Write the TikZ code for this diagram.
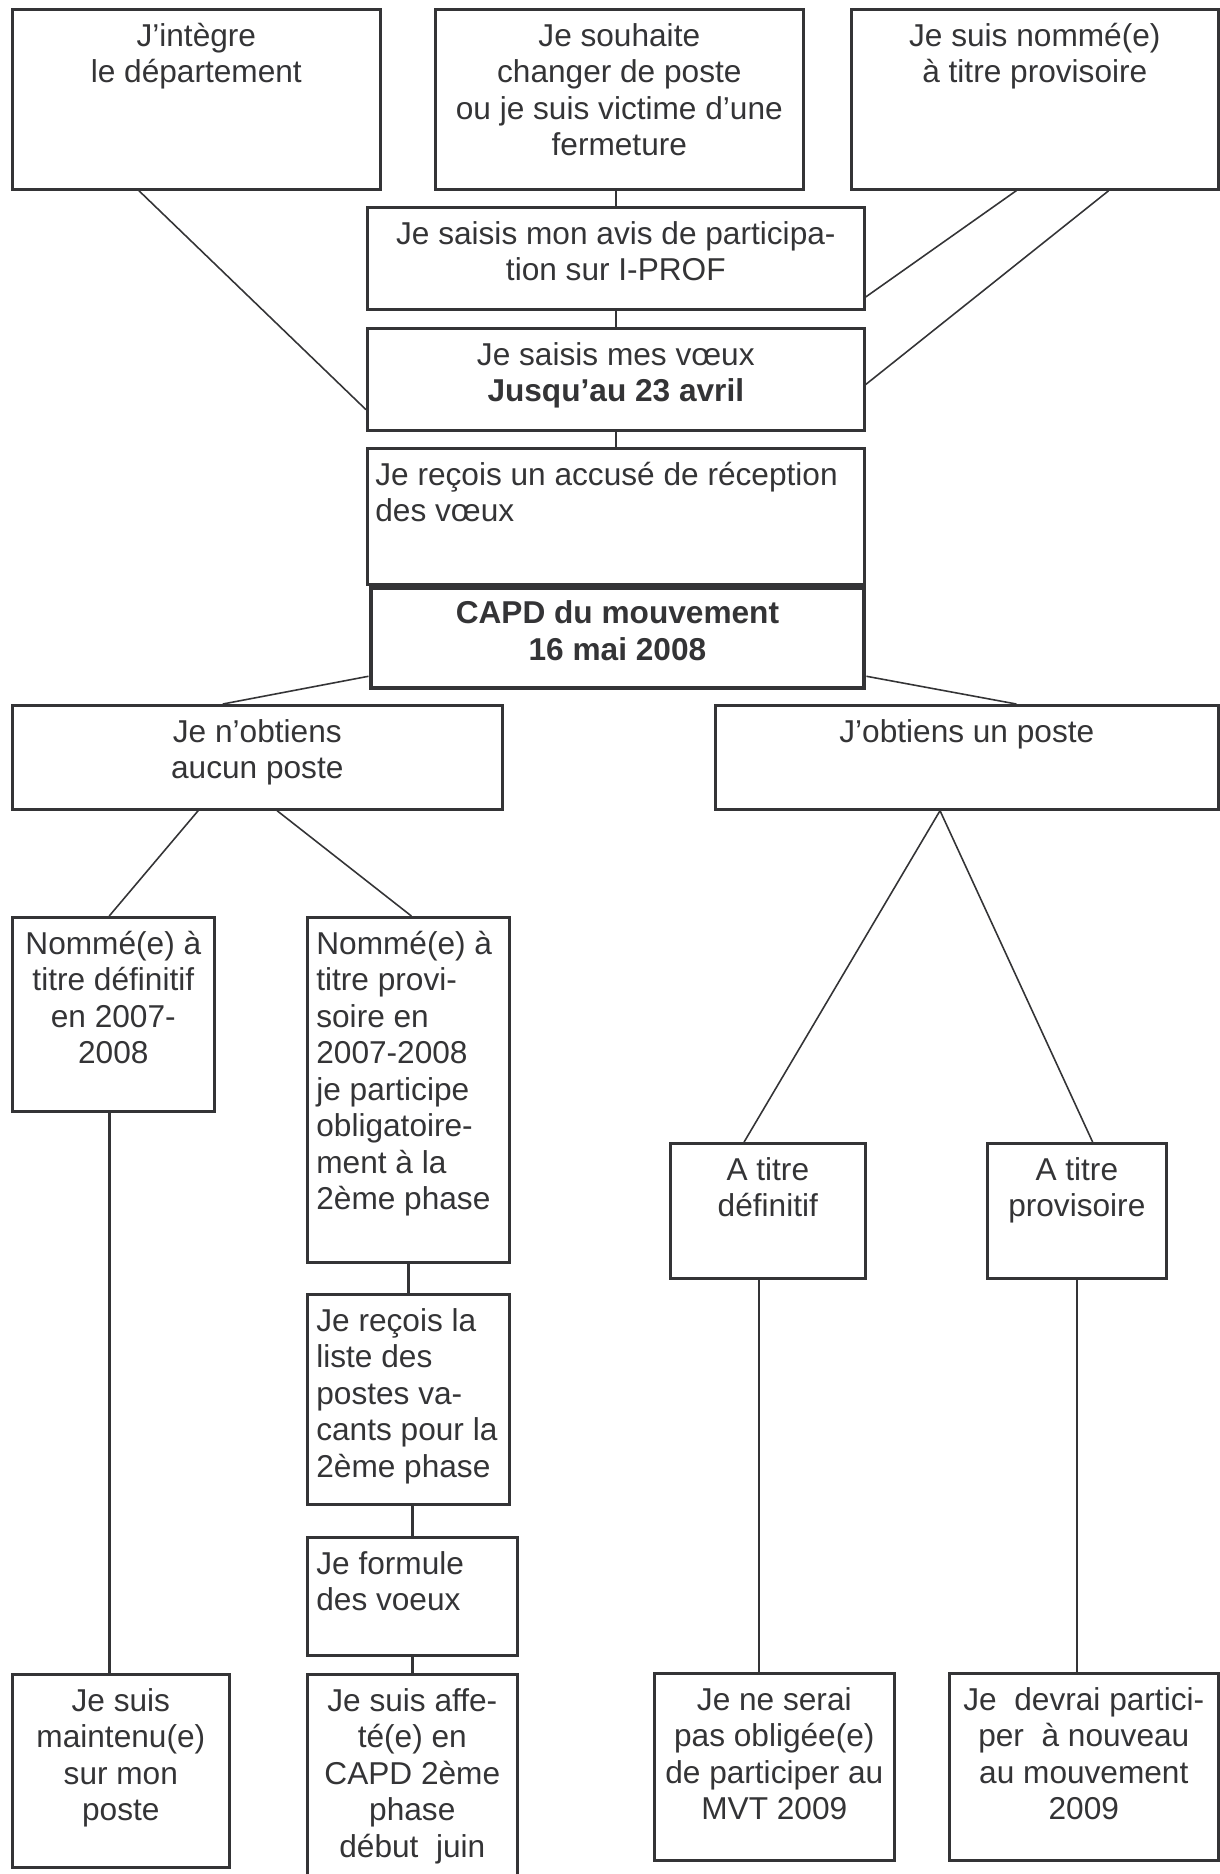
\documentclass[tikz,border=0pt]{standalone}
\usepackage{fontspec}
\setmainfont{Liberation Sans}
\usepackage{tikz}
\usetikzlibrary{calc}
\definecolor{ink}{RGB}{52,52,54}
\newcommand{\boxfont}{\fontsize{18}{20.8}\selectfont}
\newcommand{\topstrut}{\rule{0pt}{21.5pt}}

\begin{document}
\begin{tikzpicture}[
    x=0.02cm, y=-0.02cm,
    box/.style 2 args={draw=ink, line width=1.5pt, minimum width=#1*0.02cm, minimum height=#2*0.02cm, anchor=north west, inner sep=0pt},
    capd_box/.style 2 args={box={#1}{#2}, line width=2.8pt},
    txt/.style={font=\boxfont, text=ink, inner sep=0pt},
    txt_c/.style={txt, align=center, anchor=north},
    txt_l/.style={txt, align=left, anchor=north west},
    link/.style={draw=ink, line width=0.9pt},
    stem/.style={draw=ink, line width=1.5pt}
]
\useasboundingbox (0,0) rectangle (1220,1874);

% TOP BOXES
\node[box={368}{180}] (integre) at (11,8) {};
\node[txt_c] (integre_t) at (integre.north) {\topstrut J’intègre\\le département};
\node[box={368}{180}] (souhait) at (434,8) {};
\node[txt_c] (souhait_t) at (souhait.north) {\topstrut Je souhaite\\changer de poste\\ou je suis victime d’une\\fermeture};
\node[box={367}{180}] (nomme) at (850,8) {};
\node[txt_c] (nomme_t) at (nomme.north) {\topstrut Je suis nommé(e)\\à titre provisoire};

% CENTRAL COLUMN
\node[box={497}{102}] (avis) at (366,206) {};
\node[txt_c] (avis_t) at (avis.north) {\topstrut Je saisis mon avis de participa-\\tion sur I-PROF};
\node[box={497}{102}] (voeux) at (366,327) {};
\node[txt_c] (voeux_t) at (voeux.north) {\topstrut Je saisis mes vœux\\\textbf{Jusqu’au 23 avril}};
\node[box={497}{136}] (accuse) at (366,447) {};
\node[txt_l] (accuse_t) at ([xshift=0.18cm]accuse.north west) {\topstrut Je reçois un accusé de réception\\des vœux};
\node[capd_box={493}{100}] (capd) at (368.5,585.5) {};
\node[txt_c, font=\boxfont\bfseries] (capd_t) at (capd.north) {\topstrut CAPD du mouvement\\16 mai 2008};

% RESULT OF THE CAPD
\node[box={490}{104}] (nobt) at (11,704) {};
\node[txt_c] (nobt_t) at (nobt.north) {\topstrut Je n’obtiens\\aucun poste};
\node[box={503}{104}] (obt) at (714,704) {};
\node[txt_c] (obt_t) at (obt.north) {\topstrut J’obtiens un poste};

% LEFT BRANCH
\node[box={202}{194}] (defin) at (11,916) {};
\node[txt_c] (defin_t) at (defin.north) {\topstrut Nommé(e) à\\titre définitif\\en 2007-\\2008};
\node[box={202}{345}] (provi) at (306,916) {};
\node[txt_l] (provi_t) at ([xshift=0.2cm]provi.north west) {\topstrut Nommé(e) à\\titre provi-\\soire en\\2007-2008\\je participe\\obligatoire-\\ment à la\\2ème phase};
\node[box={202}{210}] (recois) at (306,1293) {};
\node[txt_l] (recois_t) at ([xshift=0.2cm]recois.north west) {\topstrut Je reçois la\\liste des\\postes va-\\cants pour la\\2ème phase};
\node[box={210}{118}] (formule) at (306,1536) {};
\node[txt_l] (formule_t) at ([xshift=0.2cm]formule.north west) {\topstrut Je formule\\des voeux};
\node[box={210}{217}] (affecte) at (306,1673) {};
\node[txt_c] (affecte_t) at (affecte.north) {\topstrut Je suis affe-\\té(e) en\\CAPD 2ème\\phase\\début~~juin};
\node[box={217}{193}] (mainten) at (11,1673) {};
\node[txt_c] (mainten_t) at (mainten.north) {\topstrut Je suis\\maintenu(e)\\sur mon\\poste};

% RIGHT BRANCH
\node[box={195}{135}] (atdef) at (669,1142) {};
\node[txt_c] (atdef_t) at (atdef.north) {\topstrut A titre\\définitif};
\node[box={179}{135}] (atprov) at (986,1142) {};
\node[txt_c] (atprov_t) at (atprov.north) {\topstrut A titre\\provisoire};
\node[box={240}{187}] (neserai) at (653,1672) {};
\node[txt_c] (neserai_t) at (neserai.north) {\topstrut Je ne serai\\pas obligée(e)\\de participer au\\MVT 2009};
\node[box={269}{187}] (devrai) at (948,1672) {};
\node[txt_c] (devrai_t) at (devrai.north) {\topstrut Je~~devrai partici-\\per~~à nouveau\\au mouvement\\2009};

% CONNECTORS
\draw[link] ($(integre.south west)!0.345!(integre.south east)$) -- ($(voeux.north west)!0.79!(voeux.south west)$);
\draw[link] ($(nomme.south west)!0.45!(nomme.south east)$) -- ($(avis.north east)!0.87!(avis.south east)$);
\draw[link] ($(nomme.south west)!0.70!(nomme.south east)$) -- ($(voeux.north east)!0.55!(voeux.south east)$);
\draw[stem] (avis.north |- souhait.south) -- (avis.north);
\draw[stem] (avis.south) -- (voeux.north);
\draw[stem] (voeux.south) -- (accuse.north);
\draw[link] ($(capd.north west)!0.865!(capd.south west)$) -- ($(nobt.north west)!0.43!(nobt.north east)$);
\draw[link] ($(capd.north east)!0.865!(capd.south east)$) -- ($(obt.north west)!0.598!(obt.north east)$);
\draw[link] ($(nobt.south west)!0.38!(nobt.south east)$) -- ($(defin.north west)!0.48!(defin.north east)$);
\draw[link] ($(nobt.south west)!0.54!(nobt.south east)$) -- ($(provi.north west)!0.515!(provi.north east)$);
\coordinate (obt_out) at ($(obt.south west)!0.447!(obt.south east)$);
\draw[link] (obt_out) -- ($(atdef.north west)!0.38!(atdef.north east)$);
\draw[link] (obt_out) -- ($(atprov.north west)!0.587!(atprov.north east)$);
\coordinate (defin_out) at ($(defin.south west)!0.48!(defin.south east)$);
\draw[stem] (defin_out) -- (defin_out |- mainten.north);
\draw[stem] (provi.south) -- (recois.north);
\draw[stem] (formule.north |- recois.south) -- (formule.north);
\draw[stem] (formule.south) -- (affecte.north);
\coordinate (atdef_out) at ($(atdef.south west)!0.456!(atdef.south east)$);
\draw[stem] (atdef_out) -- (atdef_out |- neserai.north);
\draw[stem] (atprov.south) -- (atprov.south |- devrai.north);

\end{tikzpicture}
\end{document}
